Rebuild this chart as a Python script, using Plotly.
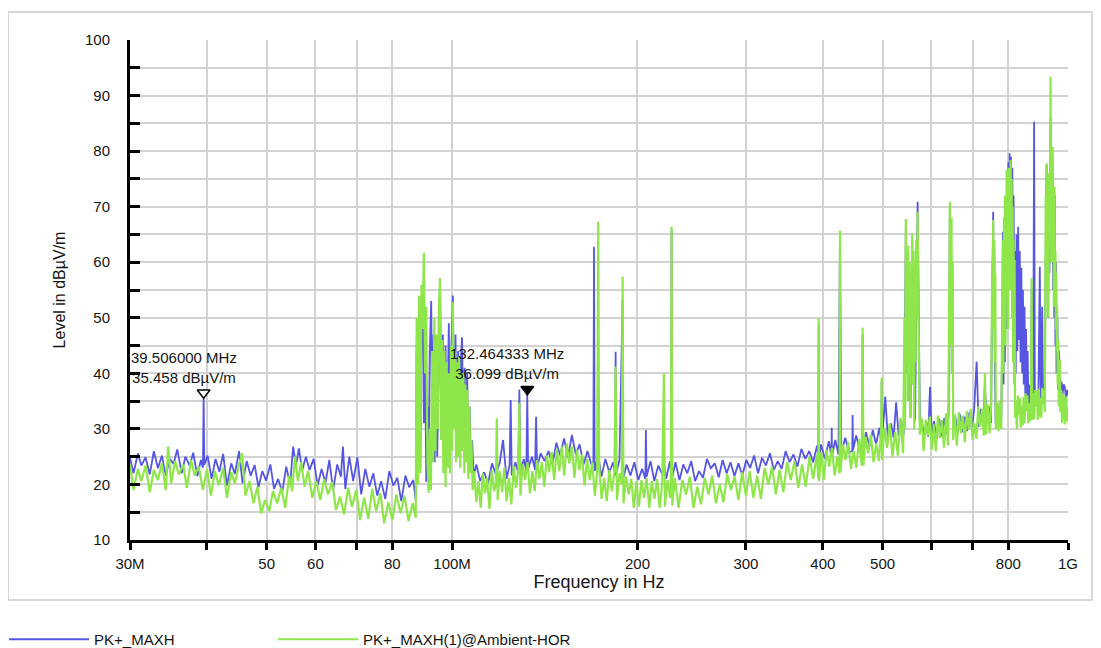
import math
import plotly.graph_objects as go

# ------------------------------------------------------------------ data
BLUE_NAME = "PK+_MAXH"
GREEN_NAME = "PK+_MAXH(1)@Ambient-HOR"

BLUE_F_MHZ = [
    30.0, 30.4, 30.9, 31.3, 31.8, 32.3, 32.8, 33.3, 33.8, 34.3,
    34.8, 35.3, 35.8, 36.4, 36.9, 37.5, 38.0, 38.6, 39.1, 39.4,
    39.506, 39.6, 40.1,
    40.7, 41.3, 41.9, 42.5, 43.1, 43.8, 44.4, 45.1, 45.7, 46.4,
    47.1, 47.8, 48.5, 49.2, 49.9, 50.7, 51.4, 52.2, 53.0, 53.8,
    54.6, 55.2, 55.8, 56.4, 57.1, 57.9, 58.7, 59.6, 60.5, 61.4,
    62.3, 63.2, 64.1, 65.1, 66.0, 66.5, 67.1, 68.1, 69.1, 70.2,
    71.2, 72.3, 73.4, 74.5, 75.6, 76.7, 77.9, 79.1, 80.3, 81.5,
    82.7, 84.0, 85.2, 86.5, 87.3,
    87.6, 88.0, 88.4, 88.8, 89.2, 89.6, 90.0, 90.4, 90.8, 91.2,
    91.6, 92.0, 92.5, 92.9, 93.3, 93.7, 94.1, 94.6, 95.1, 95.6,
    96.1, 96.6, 97.1, 97.6, 98.1, 98.5, 98.8, 99.2, 99.7, 100.3,
    100.8, 101.3, 101.8, 102.3, 102.8, 103.3, 103.8, 104.3, 104.8, 105.3,
    105.8, 106.3, 106.8, 107.3, 107.8, 108.4,
    109.5, 111.1, 112.7, 114.4, 116.1, 117.8, 119.5, 121.0, 122.6, 124.0,
    124.5, 125.0, 126.7, 128.1, 128.6, 129.1, 130.8, 132.0, 132.464333, 132.9,
    134.8, 136.4, 136.9, 137.4, 139.3, 141.3, 143.4, 145.5, 147.7, 149.8,
    152.0, 154.2, 156.5, 158.8, 161.1, 163.5, 165.9, 168.3, 169.6, 170.0,
    170.4,
    172.7, 174.8, 177.4, 180.0, 182.6, 184.0, 184.3, 184.7, 187.0, 189.2,
    189.6, 192.0, 194.8, 197.7, 200.6, 203.5, 206.0, 206.4, 206.9, 210.0,
    213.0, 216.2, 219.4, 220.8, 222.6, 225.8, 226.8, 227.2, 227.7, 230.5,
    234.0, 237.4, 240.9, 244.5, 248.1, 251.8, 255.5, 259.3, 263.1, 267.0,
    271.0, 275.0, 279.1, 283.2, 287.4, 291.7, 296.0, 300.4, 304.8, 309.3,
    313.9, 318.6, 323.3, 328.1, 333.0, 337.9, 342.9, 348.0, 353.2, 358.4,
    363.7, 369.1, 374.6, 380.1, 385.7, 391.4, 393.3, 393.7, 394.2, 397.2,
    403.1, 409.0, 413.0, 413.4, 413.9, 419.0, 424.0, 426.4, 427.3, 428.5,
    434.8, 441.2, 446.5, 447.0, 447.6, 453.0, 459.0, 463.5, 464.0, 464.6,
    470.0, 476.0, 482.0, 488.0, 494.0, 498.0, 498.3, 498.8, 505.0, 510.0,
    516.0, 521.0, 526.0, 531.0, 536.0, 541.0,
    543.5, 545.4, 547.0, 549.0, 551.0, 553.0, 555.0, 557.0, 558.6, 560.5,
    562.5, 564.5, 566.5, 568.5, 570.0, 571.5, 573.0, 575.0,
    579.0, 584.0, 589.0, 593.0, 597.0, 601.0, 606.0, 612.0, 618.0, 624.0,
    630.0, 636.0, 640.0, 641.5, 643.0, 644.5, 646.0, 647.5, 649.0, 651.0,
    656.0, 662.0, 668.0, 674.0, 680.0, 686.0, 692.0, 698.0, 704.0, 710.7,
    716.0, 722.0, 728.0, 733.0, 738.0, 744.0, 750.0, 752.5, 754.0, 756.0,
    757.5, 759.0, 761.0, 763.0, 767.0, 771.0, 775.0, 779.0,
    782.0, 784.0, 786.0, 788.0, 790.0, 792.0, 794.0, 796.0, 798.0, 800.0,
    802.0, 804.0, 806.0, 808.0, 810.0, 812.0, 814.0, 816.0, 818.0,
    820.0, 822.5, 825.0, 827.5, 830.0, 832.5, 835.0, 837.5, 840.0, 842.5,
    845.0, 847.5, 850.0, 852.5, 855.0, 857.5, 860.0, 862.5, 865.0, 868.0,
    871.0, 873.0, 875.5, 878.0, 881.0, 883.5, 886.0, 889.0, 892.0, 895.0,
    898.0, 900.0, 902.0, 904.0, 908.0, 911.0, 914.0, 917.0,
    919.0, 921.0, 923.0, 925.0, 927.0, 929.0, 931.0, 933.0, 935.0, 937.0,
    939.0, 941.0, 944.0, 946.0, 948.0, 950.0, 952.0, 954.0, 956.0, 958.0,
    961.0, 964.0, 967.0, 970.0, 973.0, 976.0, 980.0, 984.0, 988.0, 992.0,
    996.0, 1000.0,
]
BLUE_LEVEL = [
    24.8, 22.0, 25.6, 23.4, 24.9, 21.8, 26.0, 22.9, 25.2, 21.6,
    24.6, 23.7, 26.3, 22.0, 25.0, 23.4, 25.7, 21.5, 24.4, 23.0,
    35.458, 23.5, 25.2,
    21.0, 24.6, 22.3, 25.5, 19.8, 23.8, 21.9, 26.0, 20.2, 24.2,
    21.6, 23.5, 19.5, 22.4, 20.7, 23.6, 19.2, 21.0, 18.6, 23.2,
    20.0, 26.8, 23.4, 26.5, 22.5, 25.0, 22.6, 24.6, 19.8, 22.8,
    20.3, 24.4, 19.0, 23.6, 21.4, 26.8, 19.2, 25.0, 20.6, 24.9,
    18.2, 22.8, 19.6, 22.0, 18.0, 20.6, 17.4, 22.4, 19.8, 21.2,
    17.0, 21.6, 19.5, 20.8, 17.2,
    45.0, 21.0, 50.0, 23.0, 48.0, 55.0, 31.0, 46.0, 20.5, 34.0,
    21.5, 44.0, 53.0, 27.0, 47.0, 24.0, 41.0, 25.0, 39.0, 57.0,
    28.0, 47.0, 25.0, 45.0, 26.0, 42.0, 49.0, 27.0, 44.0, 54.0,
    30.0, 47.0, 26.0, 44.0, 27.0, 42.0, 46.5, 29.0, 41.0, 26.0,
    40.0, 24.0, 34.0, 23.0, 28.0, 21.5,
    23.6, 20.6, 22.2, 20.2, 23.8, 21.8, 23.9, 28.0, 21.0, 23.5,
    35.2, 21.6, 24.0, 22.0, 37.1, 22.4, 24.6, 22.3, 36.099, 22.8,
    25.0, 22.6, 32.2, 23.0, 25.6, 24.2, 26.0, 23.6, 27.5, 25.2,
    28.3, 24.8, 28.9, 25.4, 27.2, 23.6, 26.0, 23.6, 24.0, 62.8,
    22.4,
    25.2, 21.4, 24.6, 22.2, 24.0, 21.6, 43.9, 22.0, 24.4, 53.2,
    21.0, 23.6, 21.6, 24.0, 20.8, 22.8, 21.0, 29.8, 21.4, 24.2,
    20.6, 23.4, 21.8, 24.0, 21.0, 24.2, 22.0, 65.8, 21.2, 24.0,
    20.8, 23.6, 22.0, 24.2, 20.6, 22.4, 21.2, 24.6, 22.9, 23.8,
    21.3, 24.4, 22.0, 24.0, 21.5, 23.8, 21.6, 24.4, 23.0, 25.2,
    22.0, 24.8, 23.4, 25.6, 22.6, 24.2, 22.8, 26.0, 24.0, 25.4,
    23.2, 26.4, 24.6, 26.0, 24.0, 27.0, 25.0, 48.5, 24.4, 27.2,
    24.6, 27.8, 25.0, 30.2, 25.2, 28.0, 25.4, 65.2, 43.6, 25.6,
    28.4, 25.8, 26.0, 32.5, 26.2, 28.8, 26.2, 26.8, 47.0, 26.4,
    29.4, 26.8, 29.8, 27.2, 30.2, 27.5, 38.5, 27.8, 35.8, 28.2,
    31.0, 28.4, 34.8, 28.6, 31.5, 29.0,
    45.0, 66.0, 40.0, 58.0, 35.0, 55.0, 32.0, 50.0, 64.0, 38.0,
    52.0, 31.5, 48.0, 62.0, 70.9, 58.0, 45.0, 30.0,
    31.6, 28.4, 31.2, 28.6, 37.6, 28.8, 31.4, 28.2, 31.8, 28.6,
    32.0, 29.0, 33.0, 45.0, 70.2, 55.0, 66.0, 40.0, 60.0, 30.0,
    32.4, 29.2, 32.6, 29.4, 32.2, 29.6, 33.0, 30.0, 33.4, 42.1,
    30.4, 33.6, 30.6, 38.0, 30.8, 34.0, 31.0, 50.0, 66.0, 69.1,
    52.0, 63.0, 40.0, 31.0, 34.2, 31.4, 34.6, 31.6,
    45.0, 65.5, 38.0, 60.0, 42.0, 70.0, 48.0, 75.0, 55.0, 78.0,
    62.0, 79.6, 66.0, 79.0, 70.0, 77.0, 58.0, 72.0, 45.0,
    62.0, 40.0, 65.0, 44.0, 66.4, 46.0, 62.0, 42.0, 59.0, 40.0,
    55.0, 38.0, 52.0, 36.0, 48.0, 35.0, 44.0, 34.0, 38.0, 33.5,
    36.0, 55.0, 34.0, 36.5, 85.3, 34.5, 37.0, 34.6, 36.8, 35.0,
    45.0, 59.2, 40.0, 35.2, 52.0, 35.0, 38.0, 35.2,
    55.0, 70.0, 77.5, 60.0, 72.0, 50.0, 75.0, 58.0, 72.0, 86.0,
    65.0, 72.0, 79.0, 55.0, 66.0, 50.0, 72.0, 45.0, 60.0, 40.0,
    50.0, 37.0, 44.0, 40.0, 36.0, 38.5, 36.2, 38.0, 37.6, 35.6,
    37.0, 36.0,
]

GREEN_F_MHZ = [
    30.0, 30.4, 30.9, 31.3, 31.8, 32.3, 32.8, 33.3, 33.8, 34.3,
    34.6, 35.0, 35.5, 36.0, 36.6, 37.1, 37.7, 38.2, 38.8, 39.4,
    40.0,
    40.6, 41.2, 41.8, 42.5, 43.1, 43.8, 44.4, 45.0, 45.6, 46.2,
    46.9, 47.6, 48.3, 49.0, 49.7, 50.5, 51.2, 52.0, 52.8, 53.6,
    54.4, 55.0, 55.6, 56.2, 56.9, 57.6, 58.4, 59.3, 60.2, 61.1,
    62.0, 62.9, 63.9, 64.8, 65.8, 66.8, 67.8, 68.8, 69.9, 70.9,
    72.0, 73.1, 74.2, 75.3, 76.5, 77.6, 78.8, 80.0, 81.2, 82.5,
    83.7, 85.0, 86.3, 87.3,
    87.6, 88.0, 88.4, 88.8, 89.2, 89.6, 90.0, 90.4, 90.8, 91.2,
    91.6, 92.0, 92.4, 92.8, 93.2, 93.6, 94.0, 94.4, 94.8, 95.2,
    95.6, 96.0, 96.4, 96.8, 97.2, 97.6, 98.0, 98.4, 98.8, 99.2,
    99.6, 100.0, 100.3, 100.7, 101.1, 101.5, 101.9, 102.3, 102.7, 103.1,
    103.5, 103.9, 104.3, 104.7, 105.1, 105.5, 105.9, 106.3, 106.7, 107.1,
    107.5, 108.0,
    108.6, 109.5, 110.4, 111.3, 112.2, 113.1, 114.0, 115.0, 116.0, 117.0,
    117.8, 118.2, 118.6, 119.6, 120.6, 121.6, 122.6, 123.7, 124.8, 125.9,
    127.0, 128.1, 128.6, 129.1, 130.2, 131.4, 132.6, 133.8, 135.0, 136.2,
    137.4, 138.6, 139.9, 141.2, 142.5, 143.8, 145.1, 146.5, 147.9, 149.3,
    150.7, 152.1, 153.5, 155.0, 156.5, 158.0, 159.5, 161.0, 162.5, 164.1,
    165.7, 167.3, 168.9, 170.5,
    172.0, 172.7, 173.3, 174.9, 176.6, 178.3, 180.0, 181.7, 183.5, 184.3,
    185.2, 187.0, 188.6, 189.2, 189.8, 191.6, 193.5, 195.4, 197.3, 199.2,
    201.1, 203.0, 205.0, 207.0, 209.0, 211.0, 213.1, 215.2, 217.3, 219.4,
    220.8, 221.6, 223.8, 225.9, 226.7, 227.2, 227.8, 230.0,
    233.2, 236.5, 239.8, 243.2, 246.6, 250.1, 253.6, 257.2, 260.8, 264.5,
    268.2, 272.0, 275.8, 279.7, 283.6, 287.6, 291.7, 295.8, 300.0, 304.2,
    308.5, 312.8, 317.2, 321.7, 326.2, 330.8, 335.5, 340.2, 345.0, 349.9,
    354.8, 359.8, 364.9, 370.0, 375.2, 380.5, 385.8, 391.0, 393.2, 393.7,
    394.3, 397.6,
    401.4, 405.5, 409.6, 413.8, 418.0, 422.2, 425.6, 426.4, 427.2, 431.0,
    435.4, 439.8, 444.3, 448.8, 453.3, 457.9, 462.5, 464.0, 465.5, 469.0,
    473.7, 478.5, 483.3, 488.2, 493.1, 497.5, 498.3, 499.1, 503.5, 508.5,
    513.6, 518.8, 524.0, 529.3, 534.6, 540.0,
    542.5, 543.8, 545.4, 546.8, 548.0, 549.3, 550.6, 552.0, 553.3, 554.6,
    556.0, 557.3, 558.6, 560.0, 561.4, 562.8, 564.2, 565.6, 567.0, 568.5,
    570.0, 571.5, 573.0, 574.5,
    578.5, 583.0, 587.5, 592.0, 596.5, 601.0, 605.6, 610.2, 614.9, 619.6,
    624.4, 629.2, 634.0, 638.8, 641.0, 642.0, 643.0, 644.0, 645.0, 646.0,
    647.0, 648.0, 649.5, 651.0,
    655.0, 660.0, 665.0, 670.0, 675.0, 680.0, 685.0, 690.0, 695.0, 700.0,
    705.0, 710.0, 715.0, 720.0, 725.0, 730.0, 733.0, 736.0, 741.0, 746.0,
    750.0, 752.0, 753.5, 755.0, 756.0, 757.5, 759.0, 760.5, 762.0, 763.5,
    767.0, 771.0, 775.0, 779.0,
    781.0, 782.5, 784.0, 785.5, 787.0, 788.5, 790.0, 791.5, 793.0, 795.0,
    796.5, 798.0, 799.5, 801.0, 802.5, 804.0, 805.5, 807.0, 808.5, 810.0,
    811.5, 813.0, 814.5, 816.0, 817.5, 819.0, 820.5,
    823.0, 826.0, 829.0, 832.0, 835.0, 838.0, 841.0, 844.0, 847.0, 850.0,
    853.0, 856.0, 859.0, 862.0, 865.0, 868.0, 871.0, 873.0, 875.0, 878.0,
    881.0, 884.0, 887.0, 890.0, 893.0, 896.0, 899.0, 902.0, 905.0, 908.0,
    911.0, 914.0, 917.0,
    918.5, 920.0, 921.5, 923.0, 924.5, 926.0, 927.5, 929.0, 930.5, 932.0,
    933.5, 935.0, 936.2, 937.0, 938.0, 939.5, 941.0, 942.5, 944.0, 945.5,
    947.0, 948.5, 950.0, 951.0, 952.5, 954.0, 955.5, 957.0, 958.5, 960.0,
    962.0, 964.0, 966.0, 968.0, 970.0, 972.0, 975.0, 978.0, 981.0, 984.0,
    987.0, 990.0, 993.0, 996.0, 1000.0,
]
GREEN_LEVEL = [
    23.6, 19.0, 22.8, 20.6, 23.4, 18.6, 22.6, 20.8, 23.8, 19.0,
    26.8, 20.2, 24.2, 21.8, 23.6, 19.4, 24.4, 21.6, 23.2, 19.0,
    22.8,
    18.0, 22.4, 19.8, 23.0, 17.6, 22.2, 20.2, 23.2, 25.6, 18.0,
    20.6, 16.6, 19.6, 14.8, 17.2, 15.2, 18.8, 16.6, 19.4, 15.8,
    21.6, 18.8, 25.0, 20.6, 24.0, 19.6, 22.4, 17.6, 20.6, 17.2,
    21.0, 18.2, 20.4, 15.4, 17.8, 14.6, 19.4, 16.0, 19.0, 13.6,
    17.6, 13.8, 19.2, 15.2, 18.4, 13.0, 16.8, 13.6, 18.2, 14.8,
    18.0, 13.4, 16.6, 14.0,
    50.0, 20.0, 54.0, 22.0, 56.0, 48.0, 61.7, 40.0, 52.0, 24.0,
    18.5, 30.0, 19.0, 44.0, 24.0, 50.0, 26.0, 47.0, 30.0, 52.0,
    57.2, 28.0, 46.0, 22.0, 44.0, 19.5, 42.0, 23.0, 40.0, 22.0,
    45.0, 26.0, 52.8, 30.0, 44.0, 24.0, 42.0, 25.0, 43.0, 23.0,
    40.0, 26.0, 40.0, 22.0, 38.0, 24.0, 37.0, 21.0, 34.0, 22.0,
    28.0, 19.0,
    22.4, 16.8, 20.6, 15.8, 22.0, 18.4, 21.2, 15.6, 22.6, 18.8,
    20.0, 31.9, 17.2, 22.4, 18.6, 23.0, 17.0, 21.2, 16.4, 23.4,
    19.4, 22.8, 34.7, 18.0, 23.6, 20.8, 24.0, 18.4, 22.4, 18.8,
    24.4, 21.0, 24.0, 19.6, 25.2, 22.2, 25.8, 20.8, 26.4, 22.4,
    26.8, 21.6, 27.4, 23.8, 26.8, 21.2, 26.2, 22.6, 25.4, 19.8,
    24.6, 20.8, 24.0, 18.0,
    22.0, 67.3, 23.4, 17.4, 21.2, 17.0, 22.6, 18.8, 22.4, 41.2,
    17.2, 22.0, 20.0, 57.4, 16.6, 21.4, 18.2, 21.0, 15.8, 20.6,
    16.0, 20.8, 17.6, 21.2, 15.8, 20.6, 17.4, 21.0, 15.8, 20.4,
    40.0, 16.0, 20.8, 17.6, 21.0, 66.4, 16.2, 21.2,
    15.8, 20.8, 18.2, 21.4, 15.8, 19.6, 16.4, 21.2, 18.2, 21.6,
    16.6, 20.0, 16.8, 21.8, 19.0, 21.4, 17.2, 22.2, 18.0, 22.4,
    17.6, 21.6, 17.4, 23.0, 20.0, 23.2, 18.2, 22.6, 18.6, 24.0,
    20.8, 24.2, 19.4, 23.6, 19.6, 25.0, 21.0, 25.4, 21.0, 49.9,
    20.6, 25.8,
    20.8, 26.2, 23.2, 26.6, 21.6, 25.0, 22.0, 65.7, 22.2, 27.2,
    24.4, 27.6, 22.8, 26.0, 23.0, 28.2, 23.4, 48.2, 23.4, 28.6,
    25.6, 29.0, 24.0, 27.4, 24.2, 30.0, 39.2, 24.4, 30.2, 26.6,
    31.0, 25.0, 29.4, 25.2, 32.0, 25.6,
    50.0, 30.0, 67.8, 42.0, 62.0, 35.0, 63.0, 40.0, 60.0, 32.0,
    58.0, 45.0, 65.2, 38.0, 62.0, 30.0, 60.0, 42.0, 64.0, 50.0,
    69.1, 55.0, 40.0, 29.0,
    32.0, 26.0, 31.6, 28.8, 32.2, 26.2, 30.8, 26.0, 32.4, 28.4,
    31.6, 26.6, 32.8, 27.0, 50.0, 64.0, 70.9, 45.0, 66.0, 55.0,
    68.0, 40.0, 60.0, 28.0,
    32.6, 27.0, 33.0, 29.2, 32.4, 27.6, 33.2, 29.8, 33.6, 28.0,
    31.0, 28.2, 34.0, 30.4, 33.6, 28.8, 40.0, 29.0, 34.4, 29.2,
    34.0, 46.0, 60.0, 48.0, 67.6, 55.0, 64.0, 42.0, 58.0, 30.0,
    34.8, 29.6, 35.0, 30.0,
    45.0, 60.0, 64.0, 40.0, 68.0, 50.0, 72.0, 45.0, 74.0, 76.6,
    58.0, 75.0, 48.0, 77.0, 62.0, 76.0, 55.0, 78.4, 66.0, 75.0,
    50.0, 70.0, 42.0, 64.0, 38.0, 60.4, 32.0,
    35.0, 30.0, 36.0, 32.4, 35.6, 30.2, 34.2, 30.6, 35.8, 31.0,
    36.4, 33.2, 36.0, 31.0, 34.6, 31.4, 36.0, 57.1, 31.6, 36.4,
    31.8, 37.0, 34.0, 36.8, 31.6, 37.2, 32.2, 35.6, 32.0, 37.4,
    34.4, 37.0, 33.0,
    50.0, 72.0, 55.0, 77.8, 62.0, 74.0, 50.0, 70.0, 58.0, 76.0,
    65.0, 72.0, 78.0, 93.4, 66.0, 60.0, 74.0, 68.0, 80.8, 60.0,
    70.0, 52.0, 68.0, 73.6, 55.0, 62.0, 48.0, 58.0, 44.0, 52.0,
    38.0, 46.0, 34.0, 42.0, 42.4, 33.0, 37.0, 31.0, 36.4, 31.6,
    36.0, 30.8, 35.8, 31.4, 34.0,
]

MARKER_F_MHZ = [39.506, 132.464333]
MARKER_LEVEL = [35.458, 36.099]
MARKER_LABELS = ["39.506000 MHz<br>35.458 dBµV/m", "132.464333 MHz<br>36.099 dBµV/m"]
MARKER_FILL = ["white", "black"]

X_TICK_MHZ = [30, 40, 50, 60, 70, 80, 100, 200, 300, 400, 500, 600, 700, 800, 1000]
X_TICK_TEXT = ["30M", "", "50", "60", "", "80", "100M", "200", "300", "400", "500", "", "", "800", "1G"]
Y_TICK_VALS = [10, 15, 20, 25, 30, 35, 40, 45, 50, 55, 60, 65, 70, 75, 80, 85, 90, 95, 100]
Y_TICK_TEXT = ["10", "", "20", "", "30", "", "40", "", "50", "", "60", "", "70", "", "80", "", "90", "", "100"]

assert len(BLUE_F_MHZ) == len(BLUE_LEVEL), (len(BLUE_F_MHZ), len(BLUE_LEVEL))
assert len(GREEN_F_MHZ) == len(GREEN_LEVEL), (len(GREEN_F_MHZ), len(GREEN_LEVEL))

# ------------------------------------------------------------------ style
BLUE = "#5656e2"
GREEN = "#8fe64a"
FONT = "Liberation Sans, Arial, Helvetica, sans-serif"
TXT = "#151515"
GRID = "#d2d2d2"
MHZ = 1e6

fig = go.Figure()
fig.add_trace(go.Scatter(
    x=[f * MHZ for f in BLUE_F_MHZ], y=BLUE_LEVEL, mode="lines", name=BLUE_NAME,
    line=dict(color=BLUE, width=1.8), legend="legend"))
fig.add_trace(go.Scatter(
    x=[f * MHZ for f in GREEN_F_MHZ], y=GREEN_LEVEL, mode="lines", name=GREEN_NAME,
    line=dict(color=GREEN, width=2.2), legend="legend2"))

for f, lv, fill in zip(MARKER_F_MHZ, MARKER_LEVEL, MARKER_FILL):
    fig.add_trace(go.Scatter(
        x=[f * MHZ], y=[lv + 1.05], mode="markers", showlegend=False,
        marker=dict(symbol="triangle-down", size=11, color=fill,
                    line=dict(color="black", width=1.5))))

annotations = []
for f, lv, txt in zip(MARKER_F_MHZ, MARKER_LEVEL, MARKER_LABELS):
    annotations.append(dict(
        x=math.log10(f * MHZ), y=lv, xref="x", yref="y", text=txt, showarrow=False,
        xanchor="center", yanchor="bottom", xshift=-20, yshift=11, align="center",
        font=dict(family=FONT, size=15, color=TXT)))

legend_common = dict(orientation="h", xanchor="left", y=-0.166, yanchor="top",
                     itemwidth=80, font=dict(family=FONT, size=15, color=TXT),
                     bgcolor="rgba(0,0,0,0)")

fig.update_layout(
    width=1093, height=640,
    margin=dict(l=122, r=33, t=32, b=108, autoexpand=False),
    paper_bgcolor="white", plot_bgcolor="white",
    font=dict(family=FONT, size=15, color=TXT),
    annotations=annotations,
    showlegend=True,
    legend=dict(x=-0.1343, **legend_common),
    legend2=dict(x=0.1525, **legend_common),
    shapes=[dict(type="rect", xref="paper", yref="paper", x0=-0.13, x1=1.0256,
                 y0=-0.12, y1=1.056, line=dict(color="#cccccc", width=1.5), layer="below")],
)

fig.update_xaxes(
    type="log", range=[math.log10(30 * MHZ), math.log10(1000 * MHZ)],
    tickvals=[v * MHZ for v in X_TICK_MHZ], ticktext=X_TICK_TEXT,
    showgrid=True, gridcolor=GRID, gridwidth=1.5,
    showline=True, linecolor="black", linewidth=3,
    ticks="outside", ticklen=7, tickwidth=3, tickcolor="black",
    ticklabelstandoff=1, automargin=False,
    tickfont=dict(family=FONT, size=15, color=TXT),
    title=dict(text="Frequency in Hz", font=dict(family=FONT, size=18, color=TXT), standoff=5),
    zeroline=False,
)
fig.update_yaxes(
    range=[10, 100], tickvals=Y_TICK_VALS, ticktext=Y_TICK_TEXT,
    showgrid=True, gridcolor=GRID, gridwidth=1.5,
    showline=True, linecolor="black", linewidth=3,
    ticks="inside", ticklen=10, tickwidth=3, tickcolor="black",
    ticklabelstandoff=14, automargin=False,
    tickfont=dict(family=FONT, size=15, color=TXT),
    title=dict(text="Level in dBµV/m", font=dict(family=FONT, size=16, color=TXT), standoff=16),
    zeroline=False,
)

fig.write_html("out.html")
